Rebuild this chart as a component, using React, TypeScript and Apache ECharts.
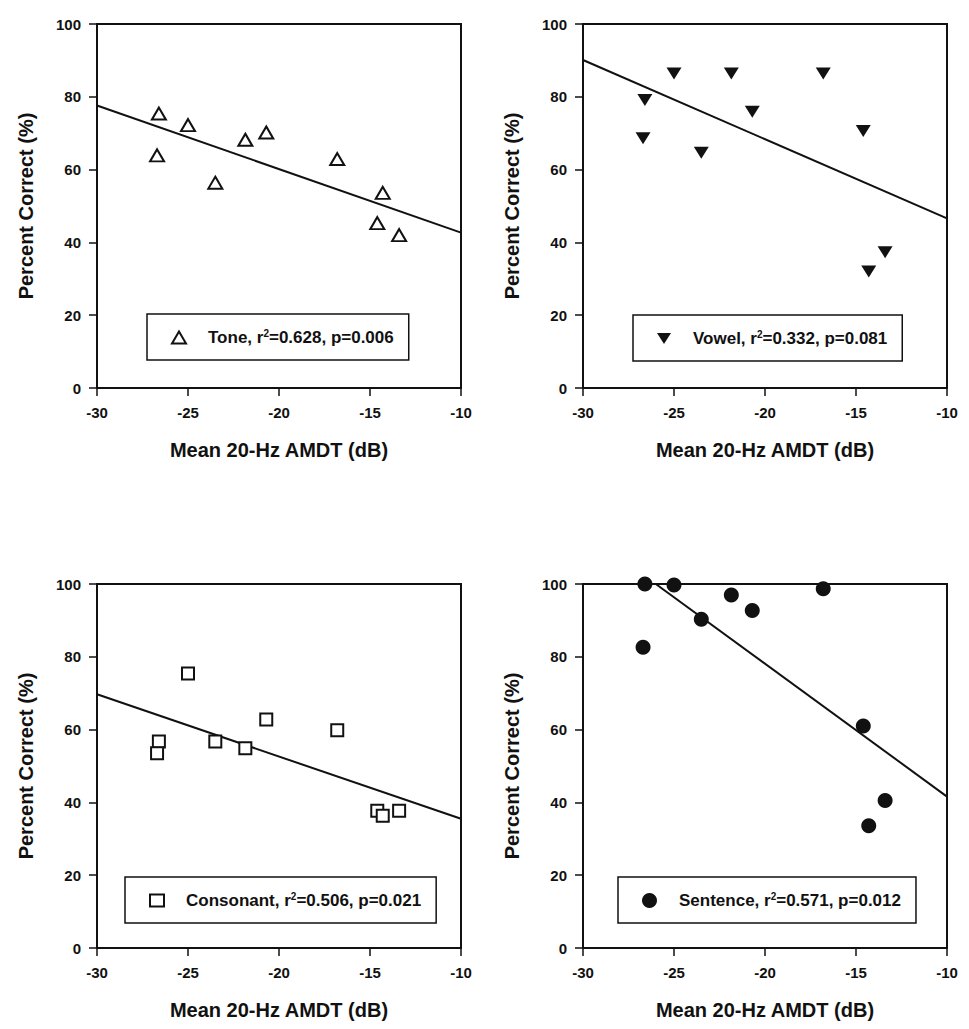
import React, { useEffect, useRef } from "react";
import * as echarts from "echarts";

// Shared predictor: mean 20-Hz AMDT (dB) per listener
const amdt = [-26.6, -26.7, -25.0, -23.5, -21.85, -20.7, -16.8, -14.6, -14.3, -13.4];

// Percent correct per test
const toneScores = [75.4, 63.9, 72.2, 56.4, 68.2, 70.2, 62.9, 45.3, 53.6, 42.0];
const vowelScores = [79.1, 68.6, 86.4, 64.6, 86.4, 75.9, 86.4, 70.6, 32.0, 37.3];
const consonantScores = [56.7, 53.5, 75.4, 56.7, 54.9, 62.8, 59.8, 37.7, 36.3, 37.7];
const sentenceScores = [100, 82.6, 99.7, 90.3, 97.0, 92.7, 98.7, 61.0, 33.6, 40.5];

// Regression line end points [x, y]
const toneFit = [[-30, 77.6], [-10, 42.7]];
const vowelFit = [[-30, 90.1], [-10, 46.6]];
const consonantFit = [[-30, 69.7], [-10, 35.5]];
const sentenceFit = [[-26.0, 100], [-10, 41.6]];

const panelNames = ["Tone", "Vowel", "Consonant", "Sentence"];
const r2Values = ["0.628", "0.332", "0.506", "0.571"];
const pValues = ["0.006", "0.081", "0.021", "0.012"];

const xTicks = { min: -30, max: -10, interval: 5 };
const yTicks = { min: 0, max: 100, interval: 20 };
const xTitle = "Mean 20-Hz AMDT (dB)";
const yTitle = "Percent Correct (%)";

const FONT = "'Liberation Sans', Arial, sans-serif";
const INK = "#111111";

export default function App() {
  const ref = useRef<HTMLDivElement>(null);

  useEffect(() => {
    if (!ref.current) return;
    const chart = echarts.init(ref.current, null, { renderer: "svg" });

    const grids = [
      { left: 97, top: 24, width: 364, height: 364 },
      { left: 583, top: 24, width: 364, height: 364 },
      { left: 97, top: 584, width: 364, height: 364 },
      { left: 583, top: 584, width: 364, height: 364 },
    ];

    const scores = [toneScores, vowelScores, consonantScores, sentenceScores];
    const fits = [toneFit, vowelFit, consonantFit, sentenceFit];
    const symbols: any[] = [
      { symbol: "triangle", legendIcon: "triangle", symbolSize: [14, 12], symbolRotate: 0, itemStyle: { color: "#fff", borderColor: INK, borderWidth: 2, opacity: 1 } },
      { symbol: "triangle", legendIcon: "path://M0,0L10,0L5,8Z", symbolSize: [15, 12], symbolRotate: 180, itemStyle: { color: INK, borderColor: INK, borderWidth: 0, opacity: 1 } },
      { symbol: "rect", legendIcon: "rect", symbolSize: [12, 12], symbolRotate: 0, itemStyle: { color: "#fff", borderColor: INK, borderWidth: 2, opacity: 1 } },
      { symbol: "circle", legendIcon: "circle", symbolSize: 15, symbolRotate: 0, itemStyle: { color: INK, borderColor: INK, borderWidth: 0, opacity: 1 } },
    ];
    const legendPos = [
      { left: 147, top: 314 },
      { left: 633, top: 315 },
      { left: 125, top: 877 },
      { left: 618, top: 877 },
    ];

    const axisLabelStyle = { fontFamily: FONT, fontWeight: "bold" as const, fontSize: 15, color: INK };
    const nameStyle = { fontFamily: FONT, fontWeight: "bold" as const, fontSize: 20, color: INK };

    const xAxis = grids.map((_, i) => ({
      type: "value",
      gridIndex: i,
      ...xTicks,
      name: xTitle,
      nameLocation: "middle",
      nameGap: 52,
      nameTextStyle: nameStyle,
      splitLine: { show: false },
      axisLine: { show: true, onZero: false, lineStyle: { color: INK, width: 2 } },
      axisTick: { show: true, inside: false, length: 8, lineStyle: { color: INK, width: 1.5 } },
      axisLabel: { ...axisLabelStyle, margin: 17 },
    }));
    const yAxis = grids.map((_, i) => ({
      type: "value",
      gridIndex: i,
      ...yTicks,
      name: yTitle,
      nameLocation: "middle",
      nameGap: 61,
      nameTextStyle: nameStyle,
      splitLine: { show: false },
      axisLine: { show: true, onZero: false, lineStyle: { color: INK, width: 2 } },
      axisTick: { show: true, inside: false, length: 8, lineStyle: { color: INK, width: 1.5 } },
      axisLabel: { ...axisLabelStyle, margin: 16 },
    }));

    const series: any[] = [];
    const legends: any[] = [];
    panelNames.forEach((name, i) => {
      series.push({
        type: "scatter",
        name,
        xAxisIndex: i,
        yAxisIndex: i,
        clip: false,
        symbol: symbols[i].symbol,
        symbolSize: symbols[i].symbolSize,
        symbolRotate: symbols[i].symbolRotate,
        itemStyle: symbols[i].itemStyle,
        emphasis: { disabled: true },
        data: amdt.map((x, k) => [x, scores[i][k]]),
        z: 3,
      });
      series.push({
        type: "line",
        name: name + " fit",
        xAxisIndex: i,
        yAxisIndex: i,
        symbol: "none",
        lineStyle: { color: INK, width: 2 },
        data: fits[i],
        z: 2,
      });
      legends.push({
        show: true,
        data: [{ name, icon: symbols[i].legendIcon, itemStyle: { ...symbols[i].itemStyle } }],
        left: legendPos[i].left,
        top: legendPos[i].top,
        orient: "horizontal",
        padding: [14, 15, 14, 24],
        borderColor: INK,
        borderWidth: 1.5,
        backgroundColor: "#fff",
        itemWidth: symbols[i].symbol === "circle" ? 15 : 14,
        itemHeight: symbols[i].symbol === "circle" ? 15 : 12,
        selectedMode: false,
        formatter: () => `{g|}{t|${name}, r}{s|2}{t|=${r2Values[i]}, p=${pValues[i]}}`,
        textStyle: {
          fontFamily: FONT,
          fontWeight: "bold",
          fontSize: 17,
          color: INK,
          rich: {
            g: { width: 17 },
            t: { fontFamily: FONT, fontWeight: "bold", fontSize: 17, color: INK, lineHeight: 19 },
            s: { fontFamily: FONT, fontWeight: "bold", fontSize: 10, color: INK, verticalAlign: "top", lineHeight: 10 },
          },
        },
      });
    });

    chart.setOption({
      animation: false,
      backgroundColor: "#fff",
      grid: grids.map((g) => ({ ...g, show: true, borderColor: INK, borderWidth: 2, backgroundColor: "transparent" })),
      xAxis,
      yAxis,
      legend: legends,
      series,
    });

    return () => chart.dispose();
  }, []);

  return (
    <div
      ref={ref}
      style={{ position: "absolute", left: 0, top: 0, width: 969, height: 1029, background: "#fff" }}
    />
  );
}
